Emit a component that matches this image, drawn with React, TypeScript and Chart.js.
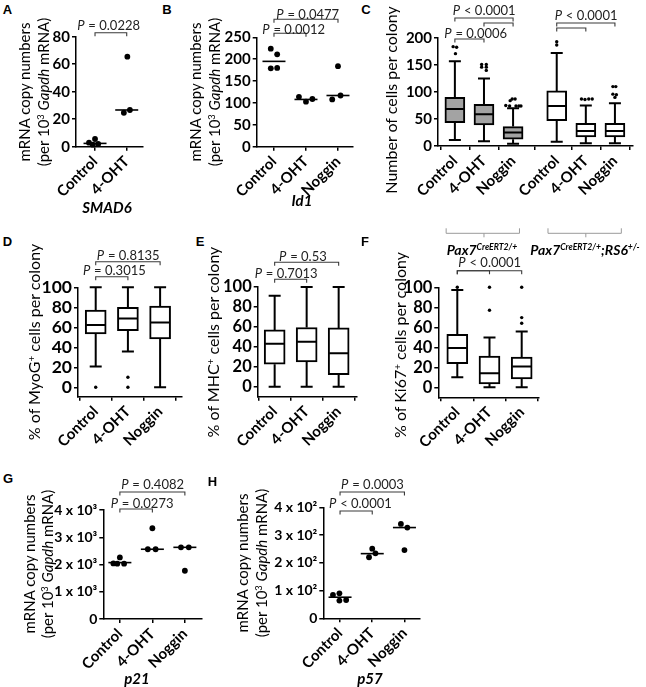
import React, { useEffect, useRef } from 'react';
import { Chart, registerables } from 'chart.js';

Chart.register(...registerables);

const FONT = 'Lato';
const FONT_CSS = 'Lato, "Open Sans", sans-serif';

// ===== Panel A — SMAD6 =====
const A_CATEGORIES = ['Control', '4-OHT'];
const A_VALUES = [[2.9, 5.6, 1.5, 2.0], [65.5, 24.7, 26.7]];
const A_JITTER = [[-0.19, 0, -0.07, 0.1], [0.02, -0.09, 0.1]];
const A_MEDIANS = [2.4, 26.7];
const A_Y_TICKS = [0, 20, 40, 60, 80];

// ===== Panel B — Id1 =====
const B_CATEGORIES = ['Control', '4-OHT', 'Noggin'];
const B_VALUES = [[224, 211, 179, 180], [114, 103, 109], [184, 108, 117]];
const B_JITTER = [[-0.1, 0.1, -0.1, 0.1], [-0.22, 0, 0.2], [0, -0.18, 0.08]];
const B_MEDIANS = [195, 108, 117];
const B_Y_TICKS = [0, 50, 100, 150, 200, 250];

// ===== Panel C — cells per colony =====
const C_CATEGORIES = ['Control', '4-OHT', 'Noggin', 'Control', '4-OHT', 'Noggin'];
const C_POSITIONS = [0, 1, 2, 3.5, 4.5, 5.5];
const C_MIN = [11, 9, 4, 8, 5, 5];
const C_Q1 = [43, 39, 12.5, 47, 17, 17];
const C_MEDIAN = [68.5, 59, 25, 74, 28, 28];
const C_Q3 = [90, 77, 36, 102, 42, 42];
const C_MAX = [157, 125, 70, 172, 75, 79];
const C_OUTLIERS = [
  [184, 183, 171],
  [151, 151, 146, 146, 140],
  [87, 87, 84, 75, 74, 74, 74, 74],
  [193, 187],
  [87, 86, 87, 87],
  [110, 110, 96, 95, 90],
];
const C_OUTLIER_JITTER = [
  [-0.06, 0.06, 0.02],
  [-0.08, 0.08, -0.08, 0.08, 0.08],
  [-0.03, 0.07, -0.1, -0.25, -0.12, 0.1, 0.2, 0.27],
  [0, 0],
  [-0.15, -0.03, 0.1, 0.22],
  [-0.07, 0.03, -0.07, 0.05, 0],
];
const C_FILLS = ['#a3a3a3', '#a3a3a3', '#a3a3a3', '#ffffff', '#ffffff', '#ffffff'];
const C_Y_TICKS = [0, 50, 100, 150, 200];

// ===== Panel D — MyoG =====
const D_CATEGORIES = ['Control', '4-OHT', 'Noggin'];
const D_MIN = [20.7, 35.7, 0];
const D_Q1 = [53.3, 56.7, 48.3];
const D_MEDIAN = [62.3, 68.7, 64.7];
const D_Q3 = [77.3, 80, 81.3];
const D_MAX = [100, 100, 100];
const D_OUTLIERS = [[0], [10, 0], []];
const D_OUTLIER_JITTER = [[0], [0, 0], []];

// ===== Panel E — MHC =====
const E_CATEGORIES = ['Control', '4-OHT', 'Noggin'];
const E_MIN = [0, 0, 0];
const E_Q1 = [22.5, 24.8, 12.1];
const E_MEDIAN = [43, 45, 33.6];
const E_Q3 = [57, 59.4, 59];
const E_MAX = [91.3, 100, 100];

// ===== Panel F — Ki67 =====
const F_CATEGORIES = ['Control', '4-OHT', 'Noggin'];
const F_MIN = [10, 0, 0];
const F_Q1 = [23.7, 3.3, 8.3];
const F_MEDIAN = [39.3, 14, 20.7];
const F_Q3 = [53, 31.3, 30.3];
const F_MAX = [97.3, 49.7, 55.7];
const F_OUTLIERS = [[100], [100, 77], [100, 69.7, 64]];
const F_OUTLIER_JITTER = [[0], [0, 0], [0, 0, 0]];

const PCT_TICKS = [0, 20, 40, 60, 80, 100];

// ===== Panel G — p21 =====
const G_CATEGORIES = ['Control', '4-OHT', 'Noggin'];
const G_VALUES = [[2040, 2030, 2260, 2030], [3330, 2560, 2560], [2630, 2630, 1770]];
const G_JITTER = [[-0.2, -0.08, 0, 0.13], [0, -0.14, 0.1], [-0.12, 0.12, 0]];
const G_MEDIANS = [2070, 2560, 2630];
const G_Y_TICKS = [0, 1000, 2000, 3000, 4000];
const G_Y_LABELS = ['0', '1 x 10³', '2 x 10³', '3 x 10³', '4 x 10³'];

// ===== Panel H — p57 =====
const H_CATEGORIES = ['Control', '4-OHT', 'Noggin'];
const H_VALUES = [[84, 90, 64, 66], [251, 220, 234], [340, 327, 246]];
const H_JITTER = [[-0.22, -0.02, -0.02, 0.19], [0, -0.1, 0.1], [-0.11, 0.09, 0]];
const H_MEDIANS = [76, 233, 327];
const H_Y_TICKS = [0, 100, 200, 300, 400];
const H_Y_LABELS = ['0', '1 x 10²', '2 x 10²', '3 x 10²', '4 x 10²'];

type Bracket = { a: number; b: number; rise: number; text?: string; textOff?: number; dx?: number };
type Spec = {
  axisX: number; plotTop: number; plotBottom: number; unit: number;
  xMin: number; xMax: number; yMin: number; yMax: number;
  yTicks: number[]; yLabels?: string[];
  positions: number[]; labels: string[];
  yW: number; padTop: number; padRight: number; xH: number; yFont: number;
  scatter?: { values: number[][]; jitter: number[][]; medians: number[] };
  box?: { min: number[]; q1: number[]; med: number[]; q3: number[]; max: number[]; outliers: number[][]; jitter: number[][]; fills: string[]; boxHalf: number; capHalf: number };
  brackets: Bracket[];
  groups?: number[][];
};

const seq = (n: number) => Array.from({ length: n }, (_, i) => i);

const PANELS: Spec[] = [
  {
    axisX: 76, plotTop: 36.7, plotBottom: 146.7, unit: 31.7, xMin: -0.6, xMax: 1.5,
    yMin: 0, yMax: 80, yTicks: A_Y_TICKS, positions: seq(2), labels: A_CATEGORIES,
    yW: 36, padTop: 36, padRight: 6, xH: 62, yFont: 15,
    scatter: { values: A_VALUES, jitter: A_JITTER, medians: A_MEDIANS },
    brackets: [{ a: 0, b: 1, rise: 4, text: 'P = 0.0228', textOff: 7.7, dx: -2.5 }],
  },
  {
    axisX: 256.7, plotTop: 37.3, plotBottom: 146.7, unit: 32, xMin: -0.54, xMax: 2.45,
    yMin: 0, yMax: 250, yTicks: B_Y_TICKS, positions: seq(3), labels: B_CATEGORIES,
    yW: 36, padTop: 37, padRight: 6, xH: 62, yFont: 15,
    scatter: { values: B_VALUES, jitter: B_JITTER, medians: B_MEDIANS },
    brackets: [
      { a: 0, b: 1, rise: 4, text: 'P = 0.0012', textOff: 4.5, dx: 3.5 },
      { a: 0, b: 2, rise: 18, text: 'P = 0.0477', textOff: 5.3, dx: 1.5 },
    ],
  },
  {
    axisX: 438, plotTop: 38, plotBottom: 146, unit: 29.1, xMin: -0.58, xMax: 6.1,
    yMin: 0, yMax: 200, yTicks: C_Y_TICKS, positions: C_POSITIONS, labels: C_CATEGORIES,
    yW: 38, padTop: 37, padRight: 6, xH: 96, yFont: 15,
    box: { min: C_MIN, q1: C_Q1, med: C_MEDIAN, q3: C_Q3, max: C_MAX, outliers: C_OUTLIERS, jitter: C_OUTLIER_JITTER, fills: C_FILLS, boxHalf: 10, capHalf: 6 },
    brackets: [
      { a: 0, b: 2, rise: 20, text: 'P < 0.0001', textOff: 8 },
      { a: 1, b: 2, rise: 15 },
      { a: 0, b: 1, rise: -1, text: 'P = 0.0006', textOff: 6, dx: 6 },
      { a: 3, b: 5, rise: 15, text: 'P < 0.0001', textOff: 8 },
      { a: 3, b: 4, rise: 10 },
    ],
    groups: [[0, 1, 2], [3, 4, 5]],
  },
  {
    axisX: 78, plotTop: 287.3, plotBottom: 396.7, unit: 32.2, xMin: -0.55, xMax: 2.67,
    yMin: -9.4, yMax: 100, yTicks: PCT_TICKS, positions: seq(3), labels: D_CATEGORIES,
    yW: 46, padTop: 45, padRight: 6, xH: 62, yFont: 17.5,
    box: { min: D_MIN, q1: D_Q1, med: D_MEDIAN, q3: D_Q3, max: D_MAX, outliers: D_OUTLIERS, jitter: D_OUTLIER_JITTER, fills: ['#fff', '#fff', '#fff'], boxHalf: 10.5, capHalf: 6 },
    brackets: [
      { a: 0, b: 1, rise: 10.6, text: 'P = 0.3015', textOff: 6, dx: 2.3 },
      { a: 0, b: 2, rise: 25.6, text: 'P = 0.8135', textOff: 6 },
    ],
  },
  {
    axisX: 257.7, plotTop: 287, plotBottom: 396.7, unit: 32, xMin: -0.53, xMax: 2.55,
    yMin: -10, yMax: 100, yTicks: PCT_TICKS, positions: seq(3), labels: E_CATEGORIES,
    yW: 42, padTop: 45, padRight: 6, xH: 62, yFont: 16.5,
    box: { min: E_MIN, q1: E_Q1, med: E_MEDIAN, q3: E_Q3, max: E_MAX, outliers: [[], [], []], jitter: [[], [], []], fills: ['#fff', '#fff', '#fff'], boxHalf: 10.5, capHalf: 6 },
    brackets: [
      { a: 0, b: 1, rise: 7.7, text: 'P = 0.7013', textOff: 6, dx: -4.8 },
      { a: 0, b: 2, rise: 24.7, text: 'P = 0.53', textOff: 6.3, dx: -4 },
    ],
  },
  {
    axisX: 438.3, plotTop: 287.3, plotBottom: 397.3, unit: 32.2, xMin: -0.59, xMax: 2.52,
    yMin: -10, yMax: 100, yTicks: PCT_TICKS, positions: seq(3), labels: F_CATEGORIES,
    yW: 42, padTop: 45, padRight: 6, xH: 62, yFont: 16.5,
    box: { min: F_MIN, q1: F_Q1, med: F_MEDIAN, q3: F_Q3, max: F_MAX, outliers: F_OUTLIERS, jitter: F_OUTLIER_JITTER, fills: ['#fff', '#fff', '#fff'], boxHalf: 10.5, capHalf: 6 },
    brackets: [
      { a: 0, b: 1, rise: 16.6 },
      { a: 0, b: 2, rise: 16.6, text: 'P < 0.0001', textOff: 8 },
    ],
  },
  {
    axisX: 103.3, plotTop: 510, plotBottom: 619, unit: 32.5, xMin: -0.51, xMax: 2.51,
    yMin: 0, yMax: 4000, yTicks: G_Y_TICKS, yLabels: G_Y_LABELS, positions: seq(3), labels: G_CATEGORIES,
    yW: 50, padTop: 40, padRight: 6, xH: 62, yFont: 14,
    scatter: { values: G_VALUES, jitter: G_JITTER, medians: G_MEDIANS },
    brackets: [
      { a: 0, b: 1, rise: 1, text: 'P = 0.0273', textOff: 6, dx: 5.7 },
      { a: 0, b: 2, rise: 18, text: 'P = 0.4082', textOff: 8 },
    ],
  },
  {
    axisX: 323.3, plotTop: 507.3, plotBottom: 618.3, unit: 32.2, xMin: -0.52, xMax: 2.49,
    yMin: 0, yMax: 400, yTicks: H_Y_TICKS, yLabels: H_Y_LABELS, positions: seq(3), labels: H_CATEGORIES,
    yW: 50, padTop: 40, padRight: 6, xH: 62, yFont: 14,
    scatter: { values: H_VALUES, jitter: H_JITTER, medians: H_MEDIANS },
    brackets: [
      { a: 0, b: 1, rise: -3.7, text: 'P < 0.0001', textOff: 8, dx: 4 },
      { a: 0, b: 2, rise: 15.3, text: 'P = 0.0003', textOff: 8 },
    ],
  },
];

function geometry(s: Spec) {
  const left = Math.floor(s.axisX - s.yW);
  const yW = s.axisX - left;
  const top = Math.floor(s.plotTop - s.padTop);
  const padTop = s.plotTop - top;
  const plotW = (s.xMax - s.xMin) * s.unit;
  const width = Math.ceil(yW + plotW + s.padRight);
  const padRight = width - yW - plotW;
  const plotH = s.plotBottom - s.plotTop;
  const height = Math.ceil(padTop + plotH + s.xH);
  const xH = height - padTop - plotH;
  return { left, top, width, height, yW, padTop, padRight, xH };
}

function drawP(ctx: CanvasRenderingContext2D, text: string, cx: number, baseline: number) {
  const size = 13;
  const rest = text.slice(1);
  ctx.font = `italic ${size}px ${FONT}`;
  const w1 = ctx.measureText('P').width;
  ctx.font = `${size}px ${FONT}`;
  const w2 = ctx.measureText(rest).width;
  const x0 = cx - (w1 + w2) / 2;
  ctx.fillStyle = '#222';
  ctx.textAlign = 'left';
  ctx.textBaseline = 'alphabetic';
  ctx.font = `italic ${size}px ${FONT}`;
  ctx.fillText('P', x0, baseline);
  ctx.font = `${size}px ${FONT}`;
  ctx.fillText(rest, x0 + w1 + 0.5, baseline);
}

function overlayPlugin(s: Spec) {
  return {
    id: 'overlay',
    afterDatasetsDraw(chart: any) {
      const ctx: CanvasRenderingContext2D = chart.ctx;
      const xs = chart.scales.x;
      const ys = chart.scales.y;
      const area = chart.chartArea;
      ctx.save();
      ctx.lineCap = 'butt';
      if (s.scatter) {
        ctx.strokeStyle = '#000';
        ctx.lineWidth = 1.6;
        s.scatter.medians.forEach((m, i) => {
          const cx = xs.getPixelForValue(s.positions[i]);
          const y = ys.getPixelForValue(m);
          ctx.beginPath();
          ctx.moveTo(cx - 11.5, y);
          ctx.lineTo(cx + 11.5, y);
          ctx.stroke();
        });
      }
      if (s.box) {
        const b = s.box;
        ctx.strokeStyle = '#000';
        ctx.lineWidth = 2;
        s.positions.forEach((p, i) => {
          const cx = xs.getPixelForValue(p);
          const yMax = ys.getPixelForValue(b.max[i]);
          const yQ3 = ys.getPixelForValue(b.q3[i]);
          const yQ1 = ys.getPixelForValue(b.q1[i]);
          const yMin = ys.getPixelForValue(b.min[i]);
          const yMed = ys.getPixelForValue(b.med[i]);
          ctx.beginPath();
          ctx.moveTo(cx, yQ3); ctx.lineTo(cx, yMax);
          ctx.moveTo(cx - b.capHalf, yMax); ctx.lineTo(cx + b.capHalf, yMax);
          ctx.moveTo(cx, yQ1); ctx.lineTo(cx, yMin);
          ctx.moveTo(cx - b.capHalf, yMin); ctx.lineTo(cx + b.capHalf, yMin);
          ctx.moveTo(cx - b.boxHalf + 1, yMed); ctx.lineTo(cx + b.boxHalf - 1, yMed);
          ctx.stroke();
        });
      }
      // significance brackets
      ctx.strokeStyle = '#3a3a3a';
      ctx.lineWidth = 1.1;
      s.brackets.forEach((br) => {
        const x1 = xs.getPixelForValue(s.positions[br.a]);
        const x2 = xs.getPixelForValue(s.positions[br.b]);
        const y = area.top - br.rise;
        ctx.beginPath();
        ctx.moveTo(x1, y + 3.5); ctx.lineTo(x1, y); ctx.lineTo(x2, y); ctx.lineTo(x2, y + 3.5);
        ctx.stroke();
        if (br.text) drawP(ctx, br.text, (x1 + x2) / 2 + (br.dx || 0), y - (br.textOff ?? 7) + 4.7);
      });
      // genotype group brackets
      if (s.groups) {
        ctx.strokeStyle = '#9a9a9a';
        ctx.lineWidth = 1;
        s.groups.forEach((g) => {
          const x1 = xs.getPixelForValue(s.positions[g[0]] - 0.3);
          const x2 = xs.getPixelForValue(s.positions[g[2]] + 0.22);
          const xm = xs.getPixelForValue(s.positions[g[1]]);
          const y = area.bottom + 87.3;
          ctx.beginPath();
          ctx.moveTo(x1, y - 5); ctx.lineTo(x1, y); ctx.lineTo(x2, y); ctx.lineTo(x2, y - 5);
          ctx.moveTo(xm, y); ctx.lineTo(xm, y + 4);
          ctx.stroke();
        });
      }
      ctx.restore();
    },
  };
}

function buildConfig(s: Spec, g: ReturnType<typeof geometry>): any {
  const datasets: any[] = [];
  if (s.scatter) {
    const pts: any[] = [];
    s.scatter.values.forEach((vals, i) => vals.forEach((v, j) => pts.push({ x: s.positions[i] + s.scatter!.jitter[i][j], y: v })));
    datasets.push({ type: 'scatter', data: pts, pointRadius: 2.9, pointBackgroundColor: '#000', pointBorderWidth: 0, showLine: false, clip: false });
  }
  if (s.box) {
    const b = s.box;
    datasets.push({
      type: 'bar',
      data: s.positions.map((p, i) => ({ x: p, y: [b.q1[i], b.q3[i]] })),
      backgroundColor: b.fills, borderColor: '#000', borderWidth: 2, borderSkipped: false,
      barThickness: b.boxHalf * 2, grouped: false, clip: false,
    });
    const outs: any[] = [];
    b.outliers.forEach((vals, i) => vals.forEach((v, j) => outs.push({ x: s.positions[i] + b.jitter[i][j], y: v })));
    datasets.push({ type: 'scatter', data: outs, pointRadius: 1.7, pointBackgroundColor: '#000', pointBorderWidth: 0, showLine: false, clip: false });
  }
  const gridOpts = { display: true, drawOnChartArea: false, drawTicks: true, tickLength: 4, color: '#000', lineWidth: 1.5 };
  const borderOpts = { display: true, color: '#000', width: 1.5 };
  return {
    type: 'scatter',
    data: { datasets },
    options: {
      responsive: false,
      animation: false,
      devicePixelRatio: 1,
      events: [],
      layout: { padding: { top: g.padTop, right: g.padRight, left: 0, bottom: 0 } },
      plugins: { legend: { display: false }, tooltip: { enabled: false }, title: { display: false } },
      scales: {
        x: {
          type: 'linear', min: s.xMin, max: s.xMax, offset: false,
          afterBuildTicks: (sc: any) => { sc.ticks = s.positions.map((v) => ({ value: v })); },
          afterFit: (sc: any) => { sc.height = g.xH; },
          ticks: {
            autoSkip: false, minRotation: 45, maxRotation: 45, padding: 2, color: '#000',
            font: { family: FONT, size: 15, weight: 'bold' },
            callback: (_v: any, i: number) => s.labels[i],
          },
          grid: gridOpts, border: borderOpts,
        },
        y: {
          type: 'linear', min: s.yMin, max: s.yMax,
          afterBuildTicks: (sc: any) => { sc.ticks = s.yTicks.map((v) => ({ value: v })); },
          afterFit: (sc: any) => { sc.width = g.yW; },
          ticks: {
            autoSkip: false, padding: 2, color: '#000',
            font: { family: FONT, size: s.yFont, weight: 'bold' },
            callback: (v: any, i: number) => (s.yLabels ? s.yLabels[i] : String(v)),
          },
          grid: gridOpts, border: borderOpts,
        },
      },
    },
    plugins: [overlayPlugin(s)],
  };
}

function PanelChart({ spec }: { spec: Spec }) {
  const ref = useRef<HTMLCanvasElement>(null);
  const g = geometry(spec);
  useEffect(() => {
    const chart = new Chart(ref.current as HTMLCanvasElement, buildConfig(spec, g));
    return () => chart.destroy();
  }, []);
  return (
    <canvas
      ref={ref}
      width={g.width}
      height={g.height}
      style={{ position: 'absolute', left: g.left, top: g.top, width: g.width, height: g.height }}
    />
  );
}

type LabelProps = {
  x: number; y: number; rotate?: boolean; size?: number; weight?: any; italic?: boolean;
  lh?: number; family?: string; children: React.ReactNode;
};
function Label({ x, y, rotate, size = 13, weight = 'normal', italic, lh, family = FONT_CSS, children }: LabelProps) {
  return (
    <div
      style={{
        position: 'absolute', left: x, top: y,
        transform: `translate(-50%, -50%)${rotate ? ' rotate(-90deg)' : ''}`,
        whiteSpace: 'nowrap', fontSize: size, fontWeight: weight,
        fontStyle: italic ? 'italic' : 'normal', lineHeight: lh ? `${lh}px` : 'normal',
        fontFamily: family, textAlign: 'center', color: '#000',
      }}
    >
      {children}
    </div>
  );
}

const Sup = ({ children }: { children: React.ReactNode }) => (
  <span style={{ fontSize: '0.62em', position: 'relative', top: '-0.55em' }}>{children}</span>
);

const CopyTitle = () => (
  <>
    <div>mRNA copy numbers</div>
    <div>(per 10<Sup>3</Sup> <i>Gapdh</i> mRNA)</div>
  </>
);

const LETTERS: [string, number, number][] = [
  ['A', 7.5, 9], ['B', 167, 9], ['C', 366, 9], ['D', 7.5, 241],
  ['E', 200, 241], ['F', 365, 241], ['G', 8, 477.5], ['H', 212.5, 480.5],
];

export default function App() {
  return (
    <div style={{ position: 'absolute', left: 0, top: 0, width: 646, height: 687, background: '#fff', overflow: 'hidden', fontFamily: FONT_CSS }}>
      {PANELS.map((p, i) => (
        <PanelChart key={i} spec={p} />
      ))}
      {LETTERS.map(([t, x, y]) => (
        <Label key={t} x={x} y={y} size={13} weight="bold" family='"Liberation Sans", Arial, sans-serif'>{t}</Label>
      ))}
      <Label x={34.5} y={92} rotate size={15} lh={19}><CopyTitle /></Label>
      <Label x={206} y={92} rotate size={15} lh={19}><CopyTitle /></Label>
      <Label x={390} y={100} rotate size={16}>Number of cells per colony</Label>
      <Label x={33} y={342} rotate size={16}>% of MyoG<Sup>+</Sup> cells per colony</Label>
      <Label x={212} y={342} rotate size={16}>% of MHC<Sup>+</Sup> cells per colony</Label>
      <Label x={399} y={345} rotate size={16}>% of Ki67<Sup>+</Sup> cells per colony</Label>
      <Label x={38.5} y={564} rotate size={15} lh={18}><CopyTitle /></Label>
      <Label x={252.5} y={563} rotate size={15} lh={19}><CopyTitle /></Label>
      <Label x={107} y={207} size={15} weight="bold" italic>SMAD6</Label>
      <Label x={302} y={200} size={15} weight="bold" italic>Id1</Label>
      <Label x={137} y={678} size={15} weight="bold" italic>p21</Label>
      <Label x={370} y={678} size={15} weight="bold" italic>p57</Label>
      <Label x={482} y={249} size={14} weight="bold" italic>Pax7<Sup>CreERT2/+</Sup></Label>
      <Label x={585} y={249} size={14} weight="bold" italic>Pax7<Sup>CreERT2/+</Sup>;RS6<Sup>+/-</Sup></Label>
    </div>
  );
}
